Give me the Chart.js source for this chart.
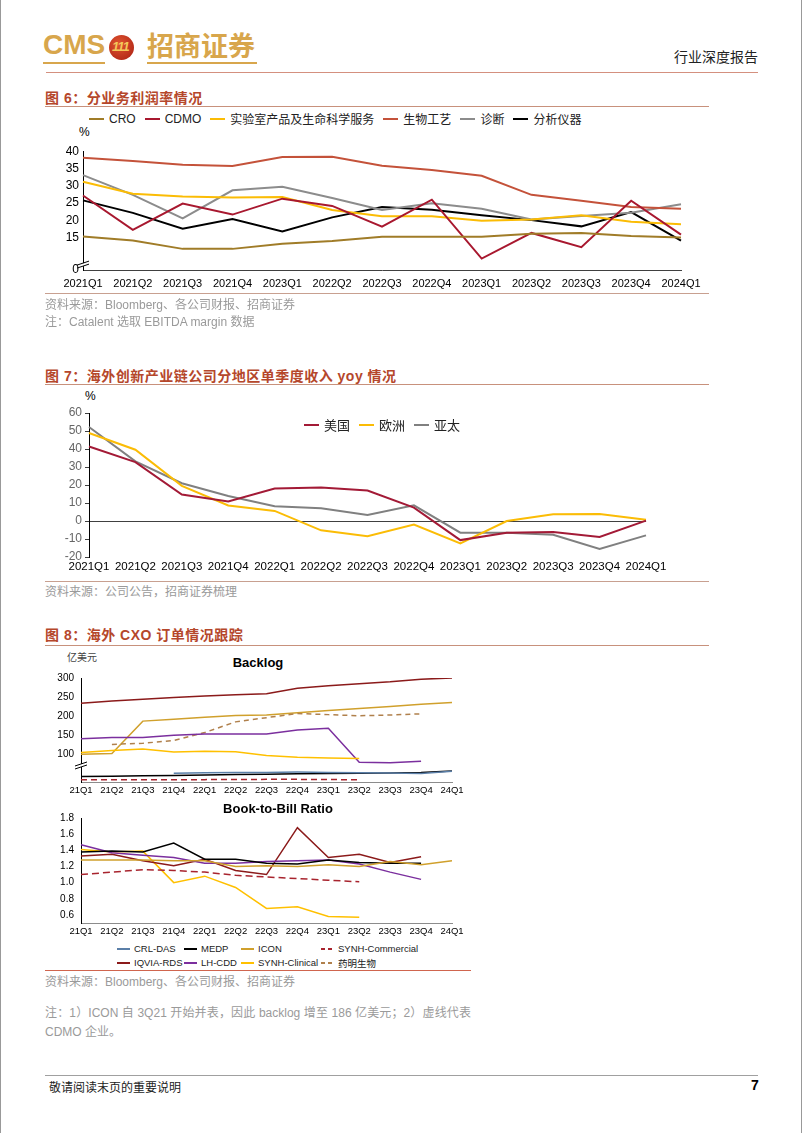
<!DOCTYPE html>
<html>
<head>
<meta charset="utf-8">
<script src="https://cdn.jsdelivr.net/npm/chart.js@4.4.1/dist/chart.umd.min.js"></script>
<style>
  body { margin: 0; background: #fff; }
  #page { position: relative; width: 800px; height: 1133px; border-left: 1px solid #999; border-right: 1px solid #999; overflow: hidden;
    font-family: "Liberation Sans", "Noto Sans CJK SC", sans-serif; color: #000; }
  .abs { position: absolute; white-space: nowrap; }
  .rule { position: absolute; height: 1px; }
  .fig-title { position: absolute; left: 44px; font-size: 14px; font-weight: bold; color: #b5472b; letter-spacing: 0.5px; white-space: nowrap; }
  .src { position: absolute; left: 44px; font-size: 12px; color: #9a9a9a; white-space: nowrap; }
  .legend { position: absolute; display: flex; align-items: center; white-space: nowrap; }
  .legend .item { display: flex; align-items: center; }
  .legend .mk { display: inline-block; width: 15px; height: 2px; margin-right: 5px; }
  canvas { position: absolute; }
  #legend8 { position: absolute; left: 116px; top: 942px; display: grid; grid-template-columns: 67px 57px 80px auto; row-gap: 1px; font-size: 9.5px; color: #222; white-space: nowrap; }
  #legend8 .item { display: flex; align-items: center; height: 13px; white-space: nowrap; }
  #legend8 .mk { display: inline-block; flex: none; width: 13px; height: 2px; margin-right: 4px; }
</style>
</head>
<body>
<div id="page">
  <!-- header -->
  <div class="abs" style="left:42px;top:29px;font-size:28px;font-weight:bold;color:#d8a64c;">CMS</div>
  <div class="abs" style="left:108px;top:35px;width:25px;height:25px;border-radius:50%;background:radial-gradient(circle at 40% 35%,#e0542f,#a81e12);"></div>
  <div class="abs" style="left:111px;top:39px;font-size:13px;font-weight:bold;font-style:italic;color:#f3c75a;letter-spacing:-1px;">111</div>
  <div class="abs" style="left:146px;top:29px;font-size:27px;font-weight:bold;color:#d8a64c;font-family:'Noto Sans CJK SC';line-height:32px;">招商证券</div>
  <div class="rule" style="left:42px;top:62px;width:62px;height:2px;background:#d8a64c;"></div>
  <div class="rule" style="left:146px;top:62px;width:110px;height:2px;background:#d8a64c;"></div>
  <div class="abs" style="left:673px;top:46px;font-size:14px;color:#222;">行业深度报告</div>
  <div class="rule" style="left:45px;top:72px;width:712px;background:#d4907f;"></div>

  <!-- figure 6 -->
  <div class="fig-title" style="top:87px;">图 6：分业务利润率情况</div>
  <div class="rule" style="left:44px;top:106px;width:664px;background:#c8917c;"></div>
  <div class="legend" id="legend6" style="left:88px;top:110px;font-size:12px;color:#222;"></div>
  <div class="abs" style="left:78px;top:125px;font-size:12px;">%</div>
  <canvas id="chart6" width="680" height="160" style="left:40px;top:140px;"></canvas>
  <div class="rule" style="left:44px;top:293px;width:664px;background:#c8a090;"></div>
  <div class="src" style="top:295px;">资料来源：Bloomberg、各公司财报、招商证券</div>
  <div class="src" style="top:312px;">注：Catalent 选取 EBITDA margin 数据</div>

  <!-- figure 7 -->
  <div class="fig-title" style="top:365px;">图 7：海外创新产业链公司分地区单季度收入 yoy 情况</div>
  <div class="rule" style="left:44px;top:384px;width:664px;background:#c8917c;"></div>
  <div class="abs" style="left:84px;top:389px;font-size:12px;">%</div>
  <canvas id="chart7" width="680" height="180" style="left:40px;top:400px;"></canvas>
  <div class="legend" id="legend7" style="left:303px;top:415px;font-size:13px;color:#222;"></div>
  <div class="rule" style="left:44px;top:581px;width:664px;background:#c8a090;"></div>
  <div class="src" style="top:582px;">资料来源：公司公告，招商证券梳理</div>

  <!-- figure 8 -->
  <div class="fig-title" style="top:624px;">图 8：海外 CXO 订单情况跟踪</div>
  <div class="rule" style="left:44px;top:645px;width:664px;background:#c8917c;"></div>
  <div class="abs" style="left:66px;top:649px;font-size:10px;color:#444;">亿美元</div>
  <div class="abs" style="left:257px;top:655px;transform:translateX(-50%);font-size:13px;font-weight:bold;">Backlog</div>
  <canvas id="chartBacklog" width="430" height="135" style="left:40px;top:665px;"></canvas>
  <canvas id="chartBtb" width="430" height="135" style="left:40px;top:805px;"></canvas>
  <div class="abs" style="left:277px;top:801px;transform:translateX(-50%);font-size:13px;font-weight:bold;">Book-to-Bill Ratio</div>
  <div id="legend8"></div>
  <div class="rule" style="left:44px;top:970px;width:426px;background:#d0654e;"></div>
  <div class="src" style="top:972px;">资料来源：Bloomberg、各公司财报、招商证券</div>
  <div class="src" style="top:1004px;font-size:12px;width:426px;white-space:normal;line-height:19px;">
    <div style="text-align:justify;text-align-last:justify;white-space:nowrap;">注：1）ICON 自 3Q21 开始并表，因此 backlog 增至 186 亿美元；2）虚线代表</div>
    <div>CDMO 企业。</div>
  </div>

  <!-- footer -->
  <div class="rule" style="left:44px;top:1075px;width:713px;background:#a0a0a0;"></div>
  <div class="abs" style="left:48px;top:1078px;font-size:12px;color:#222;">敬请阅读末页的重要说明</div>
  <div class="abs" style="left:750px;top:1077px;font-size:14px;font-weight:bold;">7</div>
</div>

<script>
// ---------- figure 6: margin by business (%) ----------
const quarters6 = ['2021Q1', '2021Q2', '2021Q3', '2021Q4', '2023Q1', '2022Q2', '2022Q3', '2022Q4', '2023Q1', '2023Q2', '2023Q3', '2023Q4', '2024Q1'];
const croMargin = [15.4, 14.2, 11.8, 11.8, 13.3, 14.1, 15.3, 15.3, 15.3, 16.2, 16.4, 15.5, 15.1];
const cdmoMargin = [27.2, 17.3, 24.9, 21.7, 26.3, 24.2, 18.2, 26.0, 9.0, 16.4, 12.3, 25.7, 15.9];
const labServicesMargin = [31.2, 27.7, 26.9, 26.6, 26.8, 23.0, 21.2, 21.2, 19.9, 20.3, 21.5, 19.6, 18.9];
const bioprocessMargin = [38.1, 37.2, 36.1, 35.7, 38.3, 38.4, 35.8, 34.6, 32.9, 27.4, 25.7, 23.9, 23.4];
const diagnosticsMargin = [33.1, 27.4, 20.6, 28.7, 29.7, 26.5, 23.0, 25.0, 23.4, 20.3, 21.3, 22.2, 24.7];
const instrumentsMargin = [25.8, 22.2, 17.6, 20.4, 16.8, 20.9, 23.9, 23.1, 21.5, 20.1, 18.3, 22.4, 14.2];
const marginTicks = [15, 20, 25, 30, 35, 40];
const marginAxisBottom = 5.7; // broken axis, bottom labelled "0"

// ---------- figure 7: yoy by region (%) ----------
const quarters7 = ['2021Q1', '2021Q2', '2021Q3', '2021Q4', '2022Q1', '2022Q2', '2022Q3', '2022Q4', '2023Q1', '2023Q2', '2023Q3', '2023Q4', '2024Q1'];
const usYoy = [41.4, 32.7, 14.7, 10.8, 18.0, 18.6, 16.9, 7.4, -10.6, -6.5, -6.1, -8.9, 0.2];
const europeYoy = [48.9, 39.6, 19.5, 8.6, 5.6, -5.2, -8.4, -2.0, -12.5, 0.0, 3.7, 3.9, 0.7];
const apacYoy = [52.2, 33.1, 21.0, 13.9, 8.2, 7.1, 3.3, 8.7, -6.5, -6.5, -7.6, -15.6, -8.0];

// ---------- figure 8: backlog (亿美元) and book-to-bill ----------
const quarters8 = ['21Q1', '21Q2', '21Q3', '21Q4', '22Q1', '22Q2', '22Q3', '22Q4', '23Q1', '23Q2', '23Q3', '23Q4', '24Q1'];
const backlogCrlDas = [null, null, null, 50.5, 51.8, 52.0, 52.5, 53.3, 52.6, 51.5, 51.0, 50.0, 55.6];
const backlogMedp = [41.8, 42.5, 43.5, 44.4, 45.5, 46.8, 48.0, 48.8, 49.6, 50.5, 51.2, 52.0, 56.4];
const backlogIcon = [100, 102, 187, 192, 197, 202, 203, 209, 215, 220, 225, 231, 236];
const backlogSynhCommercial = [33.3, 33.3, 33.3, 33.3, 33.6, 34.0, 34.3, 34.3, 33.8, 33.3, null, null, null];
const backlogIqvia = [234, 240, 244, 249, 253, 256, 259, 273, 280, 285, 290, 297, 300];
const backlogLhCdd = [141, 144, 144, 150, 153, 153, 153, 164, 168, 79, 78, 82, null];
const backlogSynhClinical = [105, 110, 114, 106, 108, 107, 97, 92, 90, 89, null, null, null];
const backlogWuxiBio = [null, 126, 129, 136, 157, 185, 196, 207, 204, 201, 203, 206, null];
const backlogTicks = [100, 150, 200, 250, 300];

const btbIqvia = [1.33, 1.35, 1.27, 1.21, 1.29, 1.15, 1.10, 1.68, 1.31, 1.35, 1.25, 1.32, null];
const btbMedp = [1.38, 1.39, 1.38, 1.49, 1.29, 1.29, 1.24, 1.23, 1.28, 1.25, 1.24, 1.24, null];
const btbIcon = [1.28, 1.28, 1.28, 1.27, 1.27, 1.20, 1.21, 1.20, 1.22, 1.20, 1.26, 1.22, 1.27];
const btbLhCdd = [1.47, 1.37, 1.34, 1.31, 1.24, 1.24, 1.26, 1.27, 1.28, 1.23, 1.13, 1.04, null];
const btbSynhClinical = [1.41, 1.38, 1.39, 1.00, 1.08, 0.94, 0.68, 0.70, 0.58, 0.57, null, null, null];
const btbSynhCommercial = [1.10, 1.13, 1.16, 1.15, 1.13, 1.09, 1.07, 1.05, 1.03, 1.01, null, null, null];
const btbTicks = [0.6, 0.8, 1.0, 1.2, 1.4, 1.6, 1.8];

// little "//" mark where the value axis is broken
const axisBreak = {
  id: 'axisBreak',
  afterDraw(chart, args, opts) {
    if (opts.value == null) return;
    const { ctx, chartArea } = chart;
    const y = chart.scales.y.getPixelForValue(opts.value);
    const x = chartArea.left;
    ctx.save();
    ctx.fillStyle = '#fff';
    ctx.fillRect(x - 2, y - 1, 4, 3);
    ctx.strokeStyle = '#000';
    ctx.lineWidth = 1;
    ctx.beginPath();
    ctx.moveTo(x - 6, y + 1); ctx.lineTo(x + 6, y - 3);
    ctx.moveTo(x - 6, y + 4); ctx.lineTo(x + 6, y);
    ctx.stroke();
    ctx.restore();
  }
};
Chart.register(axisBreak);

function series(label, data, color, extra) {
  return Object.assign({
    label, data,
    borderColor: color,
    backgroundColor: color,
    borderWidth: 2,
    pointRadius: 0,
    tension: 0,
    fill: false,
    spanGaps: false
  }, extra || {});
}

function buildChart(id, labels, datasets, cfg) {
  return new Chart(document.getElementById(id), {
    type: 'line',
    data: { labels, datasets },
    options: {
      responsive: false,
      animation: false,
      layout: { padding: cfg.padding },
      plugins: {
        legend: { display: false },
        tooltip: { enabled: false },
        axisBreak: cfg.axisBreak || {}
      },
      scales: {
        x: {
          offset: false,
          grid: { display: false, drawTicks: false },
          border: cfg.xBorder,
          ticks: { color: '#000', font: { size: cfg.xFont, family: 'Liberation Sans' }, padding: cfg.xPad, maxRotation: 0, autoSkip: false },
          afterFit: (s) => { s.height = cfg.xHeight; }
        },
        y: Object.assign({
          grid: cfg.yGrid || { display: false, drawTicks: false },
          border: { display: true, color: '#000', width: 1 },
          ticks: { color: '#000', font: { size: cfg.yFont, family: 'Liberation Sans' }, padding: cfg.yPad, callback: cfg.yLabel },
          afterFit: (s) => { s.width = cfg.yWidth; }
        }, cfg.y)
      }
    }
  });
}

function fillLegend(el, items) {
  items.forEach(([label, color, dashed]) => {
    const item = document.createElement('div');
    item.className = 'item';
    const mk = document.createElement('span');
    mk.className = 'mk';
    mk.style.background = dashed
      ? `repeating-linear-gradient(90deg, ${color} 0 4px, transparent 4px 7px)`
      : color;
    const tx = document.createElement('span');
    tx.textContent = label;
    item.appendChild(mk);
    item.appendChild(tx);
    el.appendChild(item);
  });
}

// ---- figure 6 ----
const fig6 = [
  ['CRO', croMargin, '#a07c28'],
  ['CDMO', cdmoMargin, '#a8182f'],
  ['实验室产品及生命科学服务', labServicesMargin, '#fbbc05'],
  ['生物工艺', bioprocessMargin, '#c4523a'],
  ['诊断', diagnosticsMargin, '#8c8c8c'],
  ['分析仪器', instrumentsMargin, '#000000']
];
buildChart('chart6', quarters6, fig6.map(([l, d, c]) => series(l, d, c)), {
  padding: { top: 10, right: 40, left: 0, bottom: 0 },
  xHeight: 30, xPad: 7, xFont: 11,
  xBorder: { display: true, color: '#404040', width: 1 },
  yWidth: 42, yPad: 4, yFont: 12,
  y: {
    min: marginAxisBottom, max: 40,
    afterBuildTicks: (s) => { s.ticks = [marginAxisBottom, ...marginTicks].map(v => ({ value: v })); }
  },
  yLabel: (v) => (v === marginAxisBottom ? '0' : v),
  axisBreak: { value: 7.4 }
});
const legend6 = document.getElementById('legend6');
legend6.style.gap = '9px';
fillLegend(legend6, fig6.map(([l, d, c]) => [l, c]));

// ---- figure 7 ----
const fig7 = [
  ['美国', usYoy, '#a31a36'],
  ['欧洲', europeYoy, '#fbbc05'],
  ['亚太', apacYoy, '#808080']
];
buildChart('chart7', quarters7, fig7.map(([l, d, c]) => series(l, d, c)), {
  padding: { top: 13, right: 75, left: 0, bottom: 0 },
  xHeight: 23, xPad: 3, xFont: 11.5,
  xBorder: { display: false },
  yWidth: 48, yPad: 5, yFont: 12.5,
  yGrid: {
    display: true, drawTicks: true, tickLength: 4, tickColor: '#404040',
    color: (ctx) => (ctx.tick && ctx.tick.value === 0 ? '#404040' : 'rgba(0,0,0,0)')
  },
  y: { min: -20, max: 60, ticks: { stepSize: 10 } }
});
const legend7 = document.getElementById('legend7');
legend7.style.gap = '9px';
fillLegend(legend7, fig7.map(([l, d, c]) => [l, c]));

// ---- figure 8 ----
const colors8 = {
  crl: '#5b7fa8', medp: '#000000', icon: '#d0a02c', synhCom: '#a8242e',
  iqvia: '#8b1a1a', lh: '#7b2f9e', synhCli: '#ffc000', wuxi: '#b0804c'
};
const backlogSets = [
  series('CRL-DAS', backlogCrlDas, colors8.crl, { borderWidth: 1.5 }),
  series('MEDP', backlogMedp, colors8.medp, { borderWidth: 1.5 }),
  series('SYNH-Commercial', backlogSynhCommercial, colors8.synhCom, { borderWidth: 1.5, borderDash: [6, 4] }),
  series('SYNH-Clinical', backlogSynhClinical, colors8.synhCli, { borderWidth: 1.5 }),
  series('LH-CDD', backlogLhCdd, colors8.lh, { borderWidth: 1.5 }),
  series('药明生物', backlogWuxiBio, colors8.wuxi, { borderWidth: 1.5, borderDash: [5, 4] }),
  series('ICON', backlogIcon, colors8.icon, { borderWidth: 1.5 }),
  series('IQVIA-RDS', backlogIqvia, colors8.iqvia, { borderWidth: 1.5 })
];
buildChart('chartBacklog', quarters8, backlogSets, {
  padding: { top: 11, right: 19, left: 0, bottom: 0 },
  xHeight: 18, xPad: 3, xFont: 9.5,
  xBorder: { display: true, color: '#8c8c8c', width: 1 },
  yWidth: 40, yPad: 7, yFont: 10,
  y: {
    min: 27.4, max: 300,
    afterBuildTicks: (s) => { s.ticks = backlogTicks.map(v => ({ value: v })); }
  },
  axisBreak: { value: 72 }
});

const btbSets = [
  series('SYNH-Commercial', btbSynhCommercial, colors8.synhCom, { borderWidth: 1.5, borderDash: [7, 4] }),
  series('ICON', btbIcon, colors8.icon, { borderWidth: 1.5 }),
  series('MEDP', btbMedp, colors8.medp, { borderWidth: 1.5 }),
  series('LH-CDD', btbLhCdd, colors8.lh, { borderWidth: 1.5 }),
  series('IQVIA-RDS', btbIqvia, colors8.iqvia, { borderWidth: 1.5 }),
  series('SYNH-Clinical', btbSynhClinical, colors8.synhCli, { borderWidth: 1.5 })
];
buildChart('chartBtb', quarters8, btbSets, {
  padding: { top: 10, right: 19, left: 0, bottom: 0 },
  xHeight: 17, xPad: 3, xFont: 9.5,
  xBorder: { display: true, color: '#8c8c8c', width: 1 },
  yWidth: 40, yPad: 7, yFont: 10,
  y: {
    min: 0.5, max: 1.8,
    afterBuildTicks: (s) => { s.ticks = btbTicks.map(v => ({ value: v })); }
  },
  yLabel: (v) => v.toFixed(1)
});

fillLegend(document.getElementById('legend8'), [
  ['CRL-DAS', colors8.crl], ['MEDP', colors8.medp], ['ICON', colors8.icon], ['SYNH-Commercial', colors8.synhCom, true],
  ['IQVIA-RDS', colors8.iqvia], ['LH-CDD', colors8.lh], ['SYNH-Clinical', colors8.synhCli], ['药明生物', colors8.wuxi, true]
]);
</script>
</body>
</html>
